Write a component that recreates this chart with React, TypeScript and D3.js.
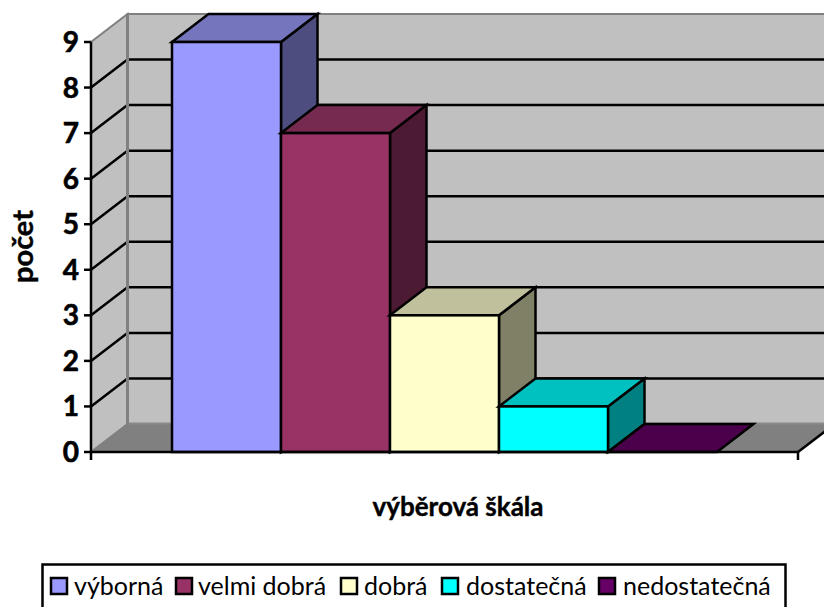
import React from "react";
import * as d3 from "d3";

const categories = ["výborná", "velmi dobrá", "dobrá", "dostatečná", "nedostatečná"];
const values = [9, 7, 3, 1, 0];
const frontColors = ["#9999ff", "#993366", "#ffffcc", "#00ffff", "#660066"];
const topColors = ["#7575bd", "#772a50", "#c0c09c", "#00c0c0", "#4a004a"];
const sideColors = ["#4d4d80", "#4d1a33", "#808066", "#008080", "#330033"];
const yTicks = [0, 1, 2, 3, 4, 5, 6, 7, 8, 9];
const legendSwatchX = [51, 176, 341, 442, 599];
const legendTextX = [74, 198, 364, 466, 623];

const W = 824, H = 607;
const DX = 36.5, DY = -28;
const y = d3.scaleLinear().domain([0, 9]).range([452, 42]);
const x = d3.scaleBand<string>().domain(categories).range([172, 717]).paddingInner(0).paddingOuter(0);
const L = 91, R = 798;
const font = "Lato, 'Open Sans', sans-serif";
const pts = (p: number[][]) => p.map((q) => q.join(",")).join(" ");
const SW = 2.5;

export default function App() {
  const y0 = y(0), yTop = y(9);
  return (
    <svg width={W} height={H} style={{ position: "absolute", left: 0, top: 0 }} fontFamily={font}>
      <rect width={W} height={H} fill="#fff" />
      {/* back wall */}
      <rect x={L + DX} y={yTop + DY} width={R - L} height={y0 - yTop} fill="#c0c0c0" stroke="#808080" strokeWidth={2} />
      {/* left wall */}
      <polygon points={pts([[L, y0], [L + DX, y0 + DY], [L + DX, yTop + DY], [L, yTop]])} fill="#c0c0c0" stroke="#808080" strokeWidth={2} />
      {/* floor */}
      <polygon points={pts([[L, y0], [R, y0], [R + DX, y0 + DY], [L + DX, y0 + DY]])} fill="#808080" />
      <line x1={L + DX} x2={R + DX} y1={y0 + DY - 0.5} y2={y0 + DY - 0.5} stroke="#8a8a8a" strokeWidth={2} />
      {/* gridlines */}
      {yTicks.slice(1, -1).map((t) => (
        <g key={t} stroke="#000" strokeWidth={SW} fill="none">
          <polyline points={pts([[L, y(t)], [L + DX, y(t) + DY], [W + 20, y(t) + DY]])} />
        </g>
      ))}
      <line x1={L + DX} x2={L + DX} y1={yTop + DY} y2={y0 + DY} stroke="#808080" strokeWidth={3} />
      {/* bars */}
      {categories.map((c, i) => {
        const x0 = x(c)!, x1 = x0 + x.bandwidth(), yv = y(values[i]);
        return (
          <g key={c} stroke="#000" strokeWidth={SW} strokeLinejoin="miter">
            {values[i] > 0 && (
              <polygon points={pts([[x1, yv], [x1 + DX, yv + DY], [x1 + DX, y0 + DY], [x1, y0]])} fill={sideColors[i]} />
            )}
            <polygon points={pts([[x0, yv], [x1, yv], [x1 + DX, yv + DY], [x0 + DX, yv + DY]])} fill={topColors[i]} />
            {values[i] > 0 && <rect x={x0} y={yv} width={x.bandwidth()} height={y0 - yv} fill={frontColors[i]} />}
          </g>
        );
      })}
      {/* axes */}
      <g stroke="#000" strokeWidth={SW}>
        <line x1={L} x2={L} y1={yTop} y2={y0 + 8} />
        <line x1={L - 1} x2={R + 1} y1={y0} y2={y0} />
        <line x1={R} x2={R} y1={y0} y2={y0 + 8} />
        <line x1={R} x2={R + DX} y1={y0} y2={y0 + DY} />
        {yTicks.map((t) => (
          <line key={t} x1={L - 7} x2={L} y1={y(t)} y2={y(t)} />
        ))}
      </g>
      {/* tick labels */}
      {yTicks.map((t) => (
        <text key={t} x={79} y={y(t) + 10} textAnchor="end" fontSize={28} fontWeight={700} fill="#000" stroke="#000" strokeWidth={0.6}>
          {t}
        </text>
      ))}
      <text transform="translate(33,246.5) rotate(-90)" textAnchor="middle" fontSize={29} fontWeight={700} fill="#000" stroke="#000" strokeWidth={0.4}>
        počet
      </text>
      <text x={458} y={516} textAnchor="middle" fontSize={26} fontWeight={700} fill="#000" stroke="#000" strokeWidth={0.4}>
        výběrová škála
      </text>
      {/* legend */}
      <rect x={42.5} y={564.5} width={743} height={60} fill="#fff" stroke="#000" strokeWidth={2.5} />
      {categories.map((c, i) => (
        <g key={c}>
          <rect x={legendSwatchX[i]} y={578} width={16} height={16} fill={frontColors[i]} stroke="#000" strokeWidth={2.5} />
          <text x={legendTextX[i]} y={595} fontSize={25} fill="#000">
            {c}
          </text>
        </g>
      ))}
    </svg>
  );
}
